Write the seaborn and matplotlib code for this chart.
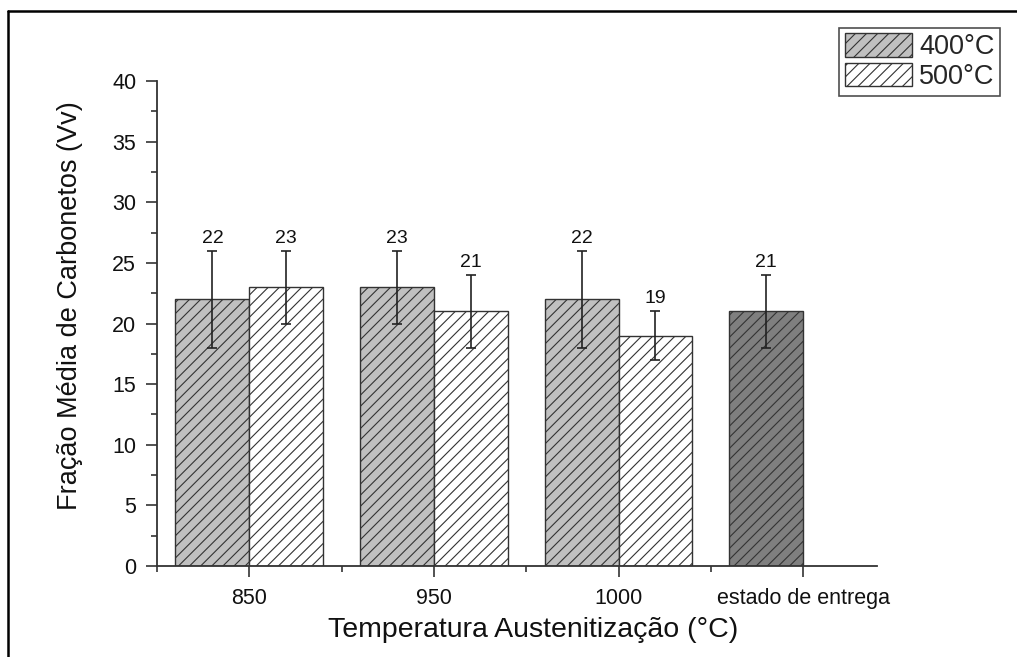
import matplotlib
matplotlib.use("Agg")
import matplotlib.pyplot as plt
import matplotlib.patches as mpatches
from matplotlib.lines import Line2D
from matplotlib.ticker import MultipleLocator, FixedLocator
import seaborn as sns
import pandas as pd

# Carbide volume fraction per austenitizing temperature and tempering temperature
categories = ["850", "850", "950", "950", "1000", "1000", "estado de entrega"]
tempering = ["400°C", "500°C", "400°C", "500°C", "400°C", "500°C", "400°C"]
mean_vv = [22, 23, 23, 21, 22, 19, 21]
err_vv = [4, 3, 3, 3, 4, 2, 3]

order = ["850", "950", "1000", "estado de entrega"]
hue_order = ["400°C", "500°C"]
palette = {"400°C": "#c0c0c0", "500°C": "#ffffff"}
delivered_color = "#7f7f7f"

df = pd.DataFrame({"temp": categories, "rev": tempering, "vv": mean_vv, "err": err_vv})

sns.set_style("ticks")
plt.rcParams["font.family"] = ["Liberation Sans", "DejaVu Sans"]
plt.rcParams["hatch.linewidth"] = 0.8
plt.rcParams["hatch.color"] = "#222222"

fig = plt.figure(figsize=(10.17, 6.57), dpi=100)
ax = fig.add_axes([157 / 1017, 1 - 566 / 657, (877 - 157) / 1017, (566 - 81) / 657])

sns.barplot(data=df, x="temp", y="vv", hue="rev", order=order, hue_order=hue_order,
            palette=palette, saturation=1, errorbar=None, width=0.8, dodge=True,
            edgecolor="#333333", linewidth=1.0, hatch="///", legend=False, ax=ax)

# Error bars and value labels placed on each drawn bar
for level, container in zip(hue_order, ax.containers):
    present = set(df[df["rev"] == level]["temp"])
    sub = df[df["rev"] == level].set_index("temp").reindex([c for c in order if c in present])
    for bar, (cat, row) in zip(container, sub.iterrows()):
        cx = bar.get_x() + bar.get_width() / 2
        if cat == "estado de entrega":
            bar.set_facecolor(delivered_color)
        ax.errorbar(cx, row["vv"], yerr=row["err"], fmt="none", ecolor="#222222",
                    elinewidth=1.2, capsize=3.8, capthick=1.2, zorder=5)
        ax.annotate(f"{row['vv']:g}", (cx, row["vv"] + row["err"]), xytext=(0, 3),
                    textcoords="offset points", ha="center", va="bottom",
                    fontsize=14, color="#111111")

ax.set_ylim(0, 40)
ax.set_xlim(-0.5, 3.4)
ax.yaxis.set_major_locator(MultipleLocator(5))
ax.yaxis.set_minor_locator(MultipleLocator(2.5))
ax.xaxis.set_minor_locator(FixedLocator([-0.5, 0.5, 1.5, 2.5]))
ax.tick_params(axis="both", which="major", length=8, width=1.2, color="#333333",
               labelsize=15.5, labelcolor="#111111")
ax.tick_params(axis="both", which="minor", length=4, width=1.2, color="#333333")
ax.tick_params(axis="x", pad=8)
ax.tick_params(axis="y", pad=7)

for s in ["top", "right"]:
    ax.spines[s].set_visible(False)
for s in ["left", "bottom"]:
    ax.spines[s].set_linewidth(1.3)
    ax.spines[s].set_color("#333333")

ax.set_xlabel("Temperatura Austenitização (°C)", fontsize=20.5, color="#111111")
ax.set_ylabel("Fração Média de Carbonetos (Vv)", fontsize=19.5, color="#111111")
ax.xaxis.set_label_coords(0.522, -0.105)
ax.yaxis.set_label_coords(-0.103, 0.536)

handles = [mpatches.Patch(facecolor=palette[h], edgecolor="#333333", hatch="///",
                          linewidth=1.0, label=h) for h in hue_order]
leg = fig.legend(handles=handles, loc="upper right",
                 bbox_to_anchor=(1000 / 1017, 1 - 28 / 657), fontsize=19.5,
                 fancybox=False, frameon=True, edgecolor="#222222",
                 handlelength=2.5, handleheight=0.95, handletextpad=0.25,
                 labelspacing=0.1, borderpad=0.2, borderaxespad=0)
leg.get_frame().set_linewidth(1.2)

# Outer frame lines (top and left)
fig.add_artist(Line2D([8 / 1017, 1.0], [1 - 11 / 657, 1 - 11 / 657],
                      transform=fig.transFigure, color="black", linewidth=1.8))
fig.add_artist(Line2D([8 / 1017, 8 / 1017], [0.0, 1 - 11 / 657],
                      transform=fig.transFigure, color="black", linewidth=1.8))

fig.savefig("out.png", dpi=100)
